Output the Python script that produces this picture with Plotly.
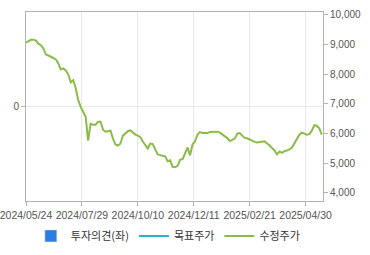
import plotly.graph_objects as go

# tick labels of the category (trading-day) axis
tick_labels = ["2024/05/24", "2024/07/29", "2024/10/10", "2024/12/11", "2025/02/21", "2025/04/30"]
tick_index = [0, 45, 90, 135, 180, 225]

# adjusted price (수정주가), sampled every 2 trading days
step = 2
adj_price = [
    9067, 9133, 9167, 9167, 9133, 9033, 8983, 8867, 8667, 8633,
    8600, 8550, 8500, 8367, 8167, 8200, 8133, 8000, 7733, 7800,
    7533, 7133, 6900, 6733, 6567, 5767, 6333, 6300, 6300, 6400,
    6400, 6133, 6067, 6083, 6100, 5833, 5633, 5600, 5667, 5933,
    6000, 6083, 6110, 6033, 5967, 5933, 5883, 5733, 5633, 5500,
    5667, 5650, 5467, 5300, 5277, 5267, 5233, 5067, 5100, 4883,
    4867, 4917, 5117, 5143, 5367, 5533, 5267, 5633, 5733, 5967,
    6050, 6023, 6033, 6017, 6057, 6057, 6067, 6067, 6033, 5967,
    5917, 5850, 5750, 5783, 5833, 6000, 6017, 5933, 5857, 5843,
    5800, 5740, 5723, 5700, 5717, 5727, 5743, 5667, 5610, 5517,
    5433, 5300, 5400, 5350, 5410, 5433, 5467, 5533, 5667, 5817,
    5967, 6033, 6000, 5967, 5983, 6100, 6283, 6267, 6183, 5967,
]
x_idx = [i * step for i in range(len(adj_price))]

right_ticks = [4000, 5000, 6000, 7000, 8000, 9000, 10000]

AXIS = "#b3b3b3"
GRID = "#e8e8e8"
TXT = "#555555"

fig = go.Figure()
fig.add_trace(go.Bar(x=[0], y=[None], name="투자의견(좌)", marker_color="#2b7de1", yaxis="y"))
fig.add_trace(go.Scatter(x=[0], y=[None], mode="lines", name="목표주가",
                         line=dict(color="#27b2c8", width=2), yaxis="y2"))
fig.add_trace(go.Scatter(x=x_idx, y=adj_price, mode="lines", name="수정주가",
                         line=dict(color="#8cbb49", width=2), yaxis="y2"))

fig.update_layout(
    width=370, height=255,
    margin=dict(l=26, r=47, t=12, b=54),
    paper_bgcolor="white", plot_bgcolor="white",
    font=dict(family="Liberation Sans, Arial", size=10, color=TXT),
    showlegend=True,
    legend=dict(orientation="h", xref="container", yref="container",
                x=0.455, xanchor="center", y=0.075, yanchor="middle",
                font=dict(family="Noto Sans CJK KR", size=11, color="#333333"),
                itemwidth=30, tracegroupgap=0, bgcolor="rgba(0,0,0,0)"),
    xaxis=dict(range=[0, 239], tickvals=tick_index, ticktext=tick_labels,
               showgrid=True, gridcolor=GRID, gridwidth=1,
               showline=True, linecolor=AXIS, linewidth=1, mirror=True,
               ticks="outside", ticklen=4, tickcolor=AXIS, zeroline=False,
               automargin=False, ticklabeloverflow="allow",
               tickfont=dict(size=10.5, color=TXT)),
    yaxis=dict(range=[-1, 1], tickvals=[0], ticktext=["0"],
               showgrid=True, gridcolor=GRID, gridwidth=1, zeroline=False,
               showline=True, linecolor=AXIS, linewidth=1,
               ticks="outside", ticklen=4, tickcolor=AXIS, automargin=False,
               tickfont=dict(size=10, color=TXT)),
    yaxis2=dict(range=[3730, 10100], tickvals=right_ticks, tickformat=",d",
                overlaying="y", side="right", showgrid=False, zeroline=False,
                showline=True, linecolor=AXIS, linewidth=1,
                ticks="outside", ticklen=4, tickcolor=AXIS, automargin=False,
                tickfont=dict(size=10, color=TXT)),
)

fig.write_html("out.html")
